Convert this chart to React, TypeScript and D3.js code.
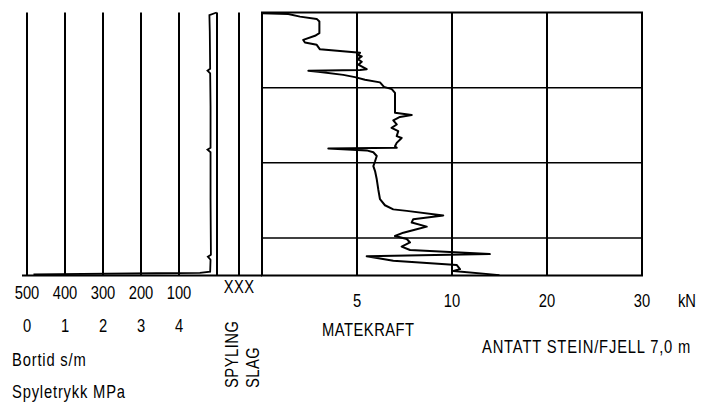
import React, { useEffect, useRef } from 'react';
import * as d3 from 'd3';

const WIDTH = 702;
const HEIGHT = 410;
const FONT = "'Liberation Sans', Arial, sans-serif";
const NARROW = 0.82; // smal skrift (Arial Narrow-lignende)

// Matekraft: dybde (m) og kraft (kN)
const kraftDepth = [0.02, 0.04, 0.11, 0.17, 0.24, 0.55, 0.62, 0.73, 0.8, 0.86, 0.98, 1.07, 1.13, 1.17, 1.24, 1.31, 1.39,
    1.51, 1.53, 1.55, 1.58, 1.66, 1.72, 1.79, 1.86, 1.98, 2.04, 2.14, 2.67, 2.73, 2.78, 2.87, 2.98, 3.07, 3.16, 3.29,
    3.34, 3.47, 3.56, 3.6, 3.62, 3.67, 3.72, 3.82, 3.96, 4.09, 4.22, 4.44, 4.71, 4.97, 5.13, 5.24, 5.28, 5.4, 5.5,
    5.59, 5.7, 5.77, 5.86, 5.95, 6.03, 6.12, 6.23, 6.32, 6.43, 6.49, 6.61, 6.72, 6.83, 6.88, 6.99];
const kraftValues = [0.0, 1.38, 2.0, 2.88, 3.02, 3.02, 2.79, 2.17, 2.26, 2.88, 3.05, 5.16, 5.05, 5.25, 5.04, 5.25, 5.07,
    5.51, 5.16, 2.44, 2.96, 4.28, 4.89, 5.42, 6.21, 6.42, 6.83, 7.0, 7.0, 7.88, 7.26, 6.91, 7.09, 6.82, 7.17, 7.09,
    7.35, 7.09, 7.0, 7.09, 3.49, 5.51, 5.86, 6.04, 5.95, 5.86, 5.95, 6.04, 6.12, 6.21, 6.47, 6.91, 7.62, 9.54, 7.96,
    7.88, 8.67, 8.14, 7.44, 7.0, 7.62, 7.79, 7.35, 7.79, 13.98, 5.51, 6.91, 10.49, 10.84, 10.14, 15.0];

// Bortid: dybde (m) og s/m
const bortidDepth = [0.0, 0.07, 0.5, 1.5, 1.55, 1.62, 2.5, 3.6, 3.65, 3.72, 5.0, 6.45, 6.5, 6.58, 6.9, 6.93, 6.94, 6.97];
const bortidValues = [1, 20, 19, 18, 25, 18, 17, 17, 25, 17, 17, 16, 24, 17, 18, 45, 159, 483];

const bortidTicks = [500, 400, 300, 200, 100];
const spyleTicks = [0, 1, 2, 3, 4];
const kraftTicks = [5, 10, 20, 30];
const depthGrid = [2, 4, 6];

export default function App() {
    const ref = useRef<SVGSVGElement>(null);

    useEffect(() => {
        const svg = d3.select(ref.current);
        svg.selectAll('*').remove();

        const depth = d3.scaleLinear().domain([0, 7]).range([12.5, 275.5]);
        const bortid = d3.scaleLinear().domain([500, 0]).range([27, 217]);
        const spyle = d3.scaleLinear().domain([0, 5]).range([27, 217]);
        const kraft = d3.scaleLinear().domain([0, 10, 30]).range([262, 452, 642]);
        const slagX = 239;

        const [top, bottom] = depth.range();

        // venstre panel
        svg.append('g')
            .selectAll('line')
            .data([...bortidTicks, 0])
            .enter().append('line')
            .attr('x1', d => bortid(d)).attr('x2', d => bortid(d))
            .attr('y1', top).attr('y2', bottom)
            .attr('stroke', '#000').attr('stroke-width', 2);

        svg.append('line')
            .attr('x1', slagX).attr('x2', slagX)
            .attr('y1', top).attr('y2', bottom)
            .attr('stroke', '#000').attr('stroke-width', 2);

        svg.append('line')
            .attr('x1', 22).attr('x2', kraft(0))
            .attr('y1', bottom).attr('y2', bottom)
            .attr('stroke', '#000').attr('stroke-width', 2);

        // høyre panel
        svg.append('rect')
            .attr('x', kraft(0)).attr('y', top)
            .attr('width', kraft(30) - kraft(0)).attr('height', bottom - top)
            .attr('fill', 'none').attr('stroke', '#000').attr('stroke-width', 2);

        svg.append('g')
            .selectAll('line')
            .data([5, 10, 20])
            .enter().append('line')
            .attr('x1', d => kraft(d)).attr('x2', d => kraft(d))
            .attr('y1', top).attr('y2', bottom)
            .attr('stroke', '#000').attr('stroke-width', 2);

        svg.append('g')
            .selectAll('line')
            .data(depthGrid)
            .enter().append('line')
            .attr('x1', kraft(0)).attr('x2', kraft(30))
            .attr('y1', d => depth(d)).attr('y2', d => depth(d))
            .attr('stroke', '#000').attr('stroke-width', 1.5);

        // kurver
        const bortidLine = d3.line<number>()
            .x((d, i) => bortid(bortidValues[i]))
            .y(d => depth(d));
        svg.append('path')
            .datum(bortidDepth)
            .attr('d', bortidLine)
            .attr('fill', 'none').attr('stroke', '#000').attr('stroke-width', 1.8);

        const kraftLine = d3.line<number>()
            .x((d, i) => kraft(kraftValues[i]))
            .y(d => depth(d));
        svg.append('path')
            .datum(kraftDepth)
            .attr('d', kraftLine)
            .attr('fill', 'none').attr('stroke', '#000').attr('stroke-width', 2)
            .attr('stroke-linejoin', 'round');

        // tekst (smal skrift via horisontal skalering)
        const text = (x: number, y: number, s: string, anchor = 'start', spacing = 0, rotate = 0) =>
            svg.append('text')
                .attr('transform', `translate(${x},${y}) rotate(${rotate}) scale(${NARROW},1)`)
                .attr('text-anchor', anchor)
                .style('font-family', FONT)
                .style('font-size', '18px')
                .style('letter-spacing', `${spacing}px`)
                .attr('fill', '#000')
                .text(s);

        bortidTicks.forEach(t => text(bortid(t), 299, String(t), 'middle'));
        spyleTicks.forEach(t => text(spyle(t), 332, String(t), 'middle'));
        text(slagX, 292.5, 'XXX', 'middle', 0.5);
        kraftTicks.forEach(t => text(kraft(t), 307, String(t), 'middle'));
        text(687, 307, 'kN', 'middle');
        text(322, 336, 'MATEKRAFT', 'start', 0.6);
        text(482, 353, 'ANTATT STEIN/FJELL 7,0 m', 'start', 1);
        text(12, 366, 'Bortid s/m', 'start', 1);
        text(12, 398, 'Spyletrykk MPa', 'start', 1);

        text(238, 388, 'SPYLING', 'start', 0.6, -90);
        text(259, 388, 'SLAG', 'start', 0.6, -90);
    }, []);

    return (
        <svg ref={ref} width={WIDTH} height={HEIGHT}
            style={{ position: 'absolute', left: 0, top: 0, background: '#fff' }} />
    );
}
